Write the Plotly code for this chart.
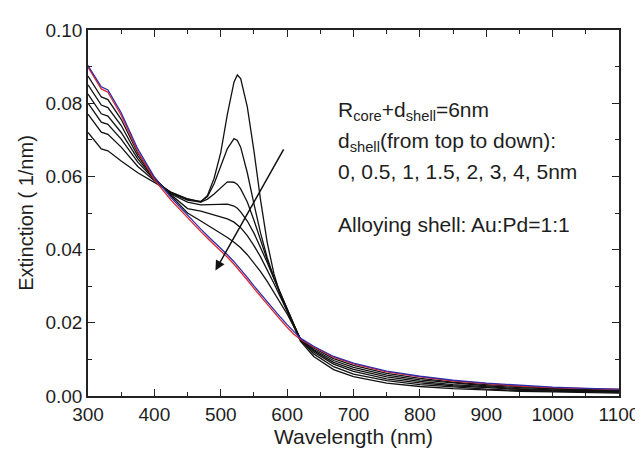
import plotly.graph_objects as go

wavelength = [300, 310, 320, 330, 340, 350, 375, 400, 425, 450,
              470, 480, 490, 500, 510, 520, 525, 530, 540, 550,
              560, 570, 580, 590, 600, 610, 620,
              640, 670, 700, 750, 800, 850, 900, 950, 1000, 1050, 1100]

ext_d0 = [.0720, .0697, .0675, .0670, .0656, .0642, .0610, .0583, .0557, .0539,
          .0530, .0548, .0595, .0665, .0770, .0858, .0877, .0867, .0790, .0670,
          .0535, .0420, .0335, .0275, .0230, .0190, .0150,
          .0108, .0072, .0053, .0035, .0026, .0020, .0016, .0013, .0011, .0009, .0008]
ext_d05 = [.0770, .0745, .0721, .0715, .0698, .0680, .0627, .0588, .0556, .0537,
           .0532, .0545, .0580, .0628, .0676, .0703, .0698, .0680, .0610, .0525,
           .0445, .0378, .0323, .0277, .0236, .0196, .0153,
           .0115, .0080, .0060, .0042, .0031, .0024, .0019, .0015, .0013, .0011, .0010]
ext_d1 = [.0800, .0773, .0748, .0742, .0722, .0702, .0639, .0591, .0554, .0535,
          .0530, .0538, .0552, .0568, .0585, .0584, .0578, .0566, .0530, .0480,
          .0425, .0372, .0324, .0280, .0238, .0196, .0154,
          .0120, .0087, .0067, .0047, .0036, .0028, .0022, .0018, .0015, .0013, .0011]
ext_d15 = [.0825, .0797, .0771, .0765, .0743, .0720, .0648, .0593, .0552, .0530,
           .0522, .0522, .0523, .0524, .0524, .0519, .0513, .0503, .0478, .0445,
           .0407, .0365, .0321, .0278, .0237, .0196, .0155,
           .0124, .0092, .0073, .0052, .0040, .0031, .0025, .0020, .0017, .0015, .0013]
ext_d2 = [.0850, .0822, .0795, .0788, .0764, .0739, .0656, .0595, .0550, .0512,
          .0505, .0500, .0496, .0491, .0484, .0475, .0468, .0460, .0438, .0411,
          .0380, .0345, .0308, .0270, .0232, .0194, .0156,
          .0127, .0097, .0078, .0057, .0044, .0035, .0028, .0023, .0019, .0016, .0014]
ext_d3 = [.0874, .0845, .0817, .0810, .0784, .0756, .0664, .0597, .0547, .0500,
          .0478, .0467, .0456, .0445, .0433, .0420, .0413, .0405, .0386, .0364,
          .0340, .0313, .0284, .0254, .0224, .0190, .0157,
          .0131, .0102, .0084, .0062, .0048, .0038, .0031, .0025, .0021, .0018, .0016]
ext_d4 = [.0898, .0867, .0839, .0830, .0799, .0767, .0668, .0591, .0535, .0486,
          .0449, .0431, .0414, .0397, .0379, .0360, .0350, .0339, .0317, .0294,
          .0272, .0250, .0229, .0208, .0188, .0169, .0155,
          .0134, .0106, .0088, .0066, .0052, .0041, .0033, .0027, .0023, .0020, .0018]
ext_d5 = [.0903, .0873, .0845, .0836, .0806, .0774, .0675, .0598, .0542, .0493,
          .0456, .0438, .0421, .0404, .0386, .0367, .0357, .0346, .0324, .0301,
          .0279, .0257, .0236, .0215, .0195, .0175, .0158,
          .0136, .0108, .0090, .0068, .0054, .0043, .0035, .0029, .0024, .0021, .0019]

series = [
    ("0 nm", ext_d0, "#111111"),
    ("0.5 nm", ext_d05, "#111111"),
    ("1 nm", ext_d1, "#111111"),
    ("1.5 nm", ext_d15, "#111111"),
    ("2 nm", ext_d2, "#111111"),
    ("3 nm", ext_d3, "#111111"),
    ("4 nm", ext_d4, "#e3262d"),
    ("5 nm", ext_d5, "#2e2ea8"),
]

FONT = "Liberation Sans, Arial, Helvetica, sans-serif"
TXT = "#1e1e1e"

fig = go.Figure()
for name, vals, col in series:
    fig.add_trace(go.Scatter(x=wavelength, y=vals, mode="lines", name=name,
                             line=dict(color=col, width=1.3), showlegend=False))

axis_common = dict(showline=True, linecolor="#222", linewidth=1.5, mirror="ticks",
                   ticks="inside", ticklen=7, tickwidth=1.3, tickcolor="#222",
                   showgrid=False, zeroline=False,
                   tickfont=dict(family=FONT, size=19, color=TXT))

fig.update_xaxes(range=[300, 1100], dtick=100, tick0=300,
                 minor=dict(ticks="inside", ticklen=4, dtick=50, tickcolor="#222", tickwidth=1.2),
                 title=dict(text="Wavelength (nm)", font=dict(family=FONT, size=21, color=TXT), standoff=6),
                 **axis_common)
fig.update_yaxes(range=[0, 0.10], dtick=0.02, tickformat=".2f",
                 minor=dict(ticks="inside", ticklen=4, dtick=0.01, tickcolor="#222", tickwidth=1.2),
                 title=dict(text="Extinction ( 1/nm)", font=dict(family=FONT, size=20, color=TXT), standoff=6),
                 **axis_common)

text_lines = [
    ("R<sub>core</sub>+d<sub>shell</sub>=6nm", 0.0780),
    ("d<sub>shell</sub>(from top to down):", 0.0693),
    ("0, 0.5, 1, 1.5, 2, 3, 4, 5nm", 0.0614),
    ("Alloying shell: Au:Pd=1:1", 0.0468),
]
for t, yv in text_lines:
    fig.add_annotation(x=674, y=yv, xref="x", yref="y", text=t, showarrow=False,
                       xanchor="left", yanchor="middle",
                       font=dict(family=FONT, size=21, color=TXT))

fig.add_annotation(x=492, y=0.0343, ax=596, ay=0.0678, xref="x", yref="y",
                   axref="x", ayref="y", showarrow=True, arrowhead=2,
                   arrowsize=1.3, arrowwidth=1.5, arrowcolor="#111", text="")

fig.update_layout(width=643, height=457, margin=dict(l=80, r=30, t=15, b=69),
                  plot_bgcolor="white", paper_bgcolor="white",
                  font=dict(family=FONT, color=TXT))

fig.write_html("out.html")
